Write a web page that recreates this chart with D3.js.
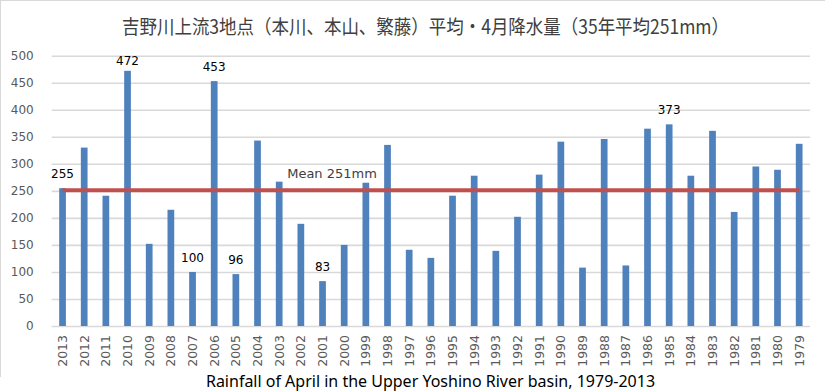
<!DOCTYPE html>
<html>
<head>
<meta charset="utf-8">
<script src="https://cdn.jsdelivr.net/npm/d3@7"></script>
<style>
  html, body { margin: 0; padding: 0; background: #fff; }
  svg { display: block; }
</style>
</head>
<body>
<svg id="chart" width="825" height="392"></svg>
<script>
// ---- data ----
const years = ["2013","2012","2011","2010","2009","2008","2007","2006","2005","2004",
               "2003","2002","2001","2000","1999","1998","1997","1996","1995","1994",
               "1993","1992","1991","1990","1989","1988","1987","1986","1985","1984",
               "1983","1982","1981","1980","1979"];
const rainfall = [255,330,241,472,152,215,100,453,96,343,
                  267,189,83,150,265,335,141,126,241,278,
                  139,202,280,341,108,346,112,365,373,278,
                  361,211,295,289,337];
const labeledYears = ["2013","2010","2007","2006","2005","2001","1985"];
const meanValue = 251;
const meanLabel = "Mean 251mm";
const yTicks = [0,50,100,150,200,250,300,350,400,450,500];
const titleText = "吉野川上流3地点（本川、本山、繁藤）平均・4月降水量（35年平均251mm）";
const captionText = "Rainfall of April in the Upper Yoshino River basin, 1979-2013";

// ---- drawing ----
const svg = d3.select("#chart");
const plot = { left: 51.7, right: 810, top: 55.7, bottom: 326 };

const x = d3.scaleBand().domain(years).range([plot.left, plot.right])
  .paddingInner(0.69).paddingOuter(0.345);
const y = d3.scaleLinear().domain([0, 500]).range([plot.bottom, plot.top]);

// outer border (top and left edges visible in the reference)
svg.append("line").attr("x1", 0).attr("x2", 825).attr("y1", 0.5).attr("y2", 0.5)
  .attr("stroke", "#d9d9d9").attr("stroke-width", 1);
svg.append("line").attr("x1", 0.5).attr("x2", 0.5).attr("y1", 0).attr("y2", 377)
  .attr("stroke", "#d9d9d9").attr("stroke-width", 1);

// title
svg.append("text")
  .attr("x", 425.5).attr("y", 34)
  .attr("text-anchor", "middle")
  .attr("font-family", "'Noto Sans CJK JP', sans-serif")
  .attr("font-size", 19.5)
  .attr("fill", "#404040")
  .attr("textLength", 607)
  .attr("lengthAdjust", "spacingAndGlyphs")
  .text(titleText);

// gridlines + y axis
const yAxis = d3.axisLeft(y).tickValues(yTicks).tickSize(-(plot.right - plot.left)).tickPadding(18);
const gy = svg.append("g").attr("transform", `translate(${plot.left},0)`).call(yAxis);
gy.select(".domain").remove();
gy.selectAll(".tick line").attr("stroke", "#d9d9d9").attr("stroke-width", 1.6);
gy.selectAll(".tick text")
  .attr("font-family", "'DejaVu Sans', sans-serif")
  .attr("font-size", 12)
  .attr("fill", "#595959");

// bars
svg.append("g").selectAll("rect").data(years).join("rect")
  .attr("x", d => x(d))
  .attr("width", x.bandwidth())
  .attr("y", (d, i) => y(rainfall[i]))
  .attr("height", (d, i) => y(0) - y(rainfall[i]))
  .attr("fill", "#4F81BD");

// x axis labels (rotated)
const xAxis = d3.axisBottom(x).tickSize(0).tickPadding(0);
const gx = svg.append("g").attr("transform", `translate(0,${plot.bottom})`).call(xAxis);
gx.select(".domain").remove();
gx.selectAll(".tick text")
  .attr("font-family", "'DejaVu Sans', sans-serif")
  .attr("font-size", 12.5)
  .attr("fill", "#595959")
  .attr("text-anchor", "end")
  .attr("transform", "translate(0,9) rotate(-90)")
  .attr("x", 0).attr("y", 0).attr("dy", "0.35em");

// mean line
svg.append("line")
  .attr("x1", x(years[0]) + x.bandwidth() / 2)
  .attr("x2", x(years[years.length - 1]) + x.bandwidth() / 2)
  .attr("y1", y(meanValue)).attr("y2", y(meanValue))
  .attr("stroke", "#C0504D").attr("stroke-width", 4);

svg.append("text")
  .attr("x", x("2003") + x.bandwidth() / 2 + 8)
  .attr("y", y(meanValue) - 12)
  .attr("font-family", "'DejaVu Sans', sans-serif")
  .attr("font-size", 13)
  .attr("fill", "#404040")
  .text(meanLabel);

// data labels
svg.append("g").selectAll("text").data(labeledYears).join("text")
  .attr("x", d => x(d) + x.bandwidth() / 2)
  .attr("y", d => Math.max(y(rainfall[years.indexOf(d)]) - 10, plot.top + 9))
  .attr("text-anchor", "middle")
  .attr("font-family", "'DejaVu Sans', sans-serif")
  .attr("font-size", 12)
  .attr("fill", "#000")
  .text(d => rainfall[years.indexOf(d)]);

// caption
svg.append("text")
  .attr("x", 430.5).attr("y", 387)
  .attr("text-anchor", "middle")
  .attr("font-family", "'Noto Sans', sans-serif")
  .attr("font-size", 16)
  .attr("fill", "#000")
  .text(captionText);
</script>
</body>
</html>
